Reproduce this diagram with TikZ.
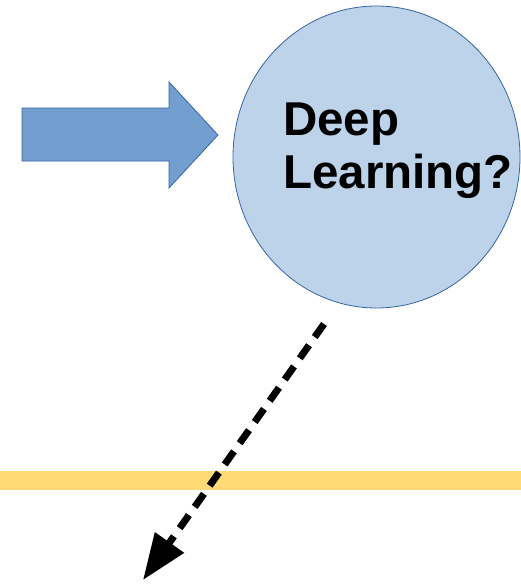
\documentclass[tikz,border=0pt]{standalone}
\usepackage{fontspec}
\setmainfont{Liberation Sans}
\usetikzlibrary{shapes.geometric,arrows.meta}
\definecolor{arrowblue}{HTML}{729FCF}
\definecolor{edgeblue}{HTML}{3465A4}
\definecolor{bubble}{HTML}{BDD3E9}
\definecolor{band}{HTML}{FFDA75}
\tikzset{
  bubblenode/.style={ellipse, draw=edgeblue, line width=0.8pt, fill=bubble,
    minimum width=287pt, minimum height=302pt, inner sep=0pt},
  bigtext/.style={anchor=base west, inner sep=0pt,
    font=\bfseries\fontsize{47.5}{53}\selectfont},
  blockarrow/.style={fill=arrowblue, draw=edgeblue, line width=0.8pt, line join=miter},
  dashedarrow/.style={line width=7pt, dash pattern=on 16pt off 10pt,
    -{Triangle[length=46pt,width=34pt]}},
}
\begin{document}
\begin{tikzpicture}[x=1pt,y=-1pt]
  \useasboundingbox (0,0) rectangle (521,584);
  % horizontal band
  \fill[band] (0,471) rectangle (521,490);
  % block arrow pointing right
  \draw[blockarrow] (22,108) -- (169,108) -- (169,82) -- (218,135)
    -- (169,188) -- (169,161) -- (22,161) -- cycle;
  % the bubble and its caption
  \node[bubblenode] (dl) at (376.5,157) {};
  \node[bigtext] (deep) at (283,135) {Deep};
  \node[bigtext] (learn) at (283,188) {Learning?};
  % dashed arrow leaving downwards
  \coordinate (from) at (324,324);
  \coordinate (to) at (143,580);
  \draw[dashedarrow] (from) -- (to);
\end{tikzpicture}
\end{document}
